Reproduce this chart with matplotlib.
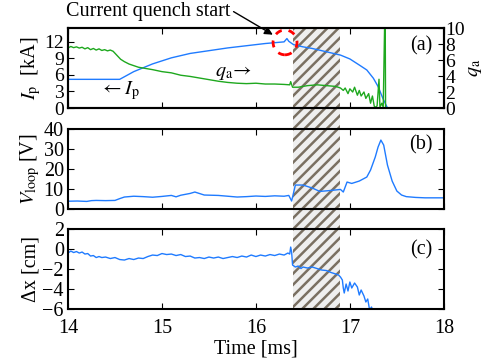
import numpy as np
import matplotlib
matplotlib.use("Agg")
import matplotlib.pyplot as plt
from matplotlib.patches import Rectangle, Ellipse
from matplotlib.transforms import blended_transform_factory

plt.rcParams['font.family'] = ['Liberation Serif', 'DejaVu Serif']
plt.rcParams['mathtext.fontset'] = 'stix'
plt.rcParams['font.size'] = 14.5
plt.rcParams['hatch.linewidth'] = 1.8

# ---- data -----------------------------------------------------------------
ip_t = [14.0, 14.55, 14.7, 14.9, 15.1, 15.3, 15.5, 15.7, 15.9, 16.1, 16.3, 16.33, 16.35,
        16.4, 16.5, 16.6, 16.7, 16.8, 16.9, 17.0, 17.1, 17.18, 17.25, 17.3, 17.35, 17.4]
ip_val = [5.2, 5.2, 6.6, 8.0, 9.1, 9.9, 10.4, 10.9, 11.3, 11.7, 12.0, 12.6, 12.1,
          11.5, 11.1, 10.8, 10.4, 10.0, 9.6, 8.9, 7.8, 6.9, 5.4, 3.9, 1.8, 0.0]

qa_t = [14.0, 14.03, 14.06, 14.09, 14.12, 14.15, 14.18, 14.21, 14.24, 14.27, 14.3, 14.33,
        14.36, 14.39, 14.42, 14.45, 14.48, 14.52, 14.56, 14.6, 14.65, 14.7, 14.75, 14.8,
        14.9, 15.0, 15.1, 15.2, 15.3, 15.4, 15.5, 15.6, 15.7, 15.8, 15.9, 16.0, 16.1, 16.2,
        16.3, 16.36, 16.37, 16.39, 16.45, 16.55, 16.65, 16.75, 16.85, 16.9, 16.93, 16.95,
        16.98, 17.0, 17.03, 17.05, 17.08, 17.1, 17.12, 17.15, 17.17, 17.2, 17.22, 17.24,
        17.26, 17.28, 17.29, 17.31, 17.32, 17.34, 17.355, 17.37, 17.375, 17.38]
qa_val = [7.5, 7.7, 7.55, 7.65, 7.5, 7.6, 7.4, 7.55, 7.3, 7.45, 7.25, 7.4,
          7.2, 7.3, 7.15, 7.25, 7.1, 6.6, 6.1, 5.8, 5.5, 5.3, 5.1, 5.0,
          4.8, 4.55, 4.4, 4.1, 3.95, 3.75, 3.55, 3.35, 3.2, 3.1, 3.05, 3.1, 3.0, 3.0,
          2.95, 2.9, 3.3, 2.6, 2.6, 2.8, 2.9, 2.8, 2.7, 2.5, 2.2, 2.5,
          1.8, 2.4, 2.0, 2.6, 1.6, 2.2, 1.5, 2.0, 1.2, 1.8, 0.6, 1.5,
          0.2, 0.1, 0.3, 3.6, 0.1, 0.6, 0.1, 10.5, 14.0, 0.0]

vl_t = [14.0, 14.1, 14.2, 14.25, 14.3, 14.4, 14.5, 14.55, 14.6, 14.7, 14.8, 14.9, 15.0,
        15.1, 15.15, 15.2, 15.3, 15.35, 15.45, 15.6, 15.7, 15.8, 15.9, 16.0, 16.1, 16.2,
        16.3, 16.35, 16.38, 16.4, 16.42, 16.5, 16.6, 16.68, 16.8, 16.9, 16.93, 16.97,
        17.02, 17.1, 17.18, 17.22, 17.27, 17.3, 17.33, 17.36, 17.4, 17.45, 17.5, 17.55,
        17.6, 17.7, 17.8, 18.0]
vl_val = [3.9, 4.0, 3.8, 4.2, 4.3, 4.2, 4.3, 5.2, 6.0, 6.4, 6.2, 5.9, 6.3,
          6.8, 6.1, 6.9, 7.8, 8.5, 7.0, 6.8, 6.4, 6.0, 6.2, 6.5, 6.3, 6.6,
          6.4, 6.8, 4.0, 8.0, 12.0, 12.0, 10.5, 8.8, 9.3, 9.8, 8.5, 13.5,
          12.8, 14.0, 16.0, 19.5, 26.0, 31.0, 34.5, 32.0, 22.0, 14.0, 9.0, 7.0,
          6.2, 5.8, 5.6, 5.6]

dx_t = [14.0, 14.03, 14.06, 14.09, 14.12, 14.15, 14.18, 14.21, 14.24, 14.27, 14.3, 14.33,
        14.36, 14.4, 14.45, 14.5, 14.55, 14.6, 14.65, 14.7, 14.75, 14.8, 14.85, 14.9,
        14.95, 15.0, 15.05, 15.1, 15.15, 15.2, 15.25, 15.3, 15.35, 15.4, 15.45, 15.5,
        15.55, 15.6, 15.65, 15.7, 15.75, 15.8, 15.85, 15.9, 15.95, 16.0, 16.05, 16.1,
        16.15, 16.2, 16.25, 16.3, 16.34, 16.36, 16.37, 16.38, 16.39, 16.42, 16.45, 16.48,
        16.5, 16.55, 16.6, 16.65, 16.7, 16.75, 16.8, 16.85, 16.88, 16.9, 16.92, 16.93,
        16.94, 16.96, 16.98, 17.0, 17.02, 17.05, 17.08, 17.1, 17.12, 17.15, 17.17, 17.19,
        17.21, 17.23, 17.25]
dx_val = [-0.4, -0.2, -0.35, -0.25, -0.4, -0.3, -0.5, -0.45, -0.7, -0.65, -0.85, -0.75,
          -0.85, -0.8, -0.95, -0.85, -1.05, -1.1, -0.95, -1.05, -0.9, -0.95, -0.75, -0.6,
          -0.65, -0.45, -0.55, -0.5, -0.65, -0.55, -0.75, -0.7, -0.9, -0.85, -0.95, -0.8,
          -0.9, -0.8, -0.95, -0.85, -0.75, -0.85, -0.7, -0.8, -0.6, -0.75, -0.6, -0.7,
          -0.55, -0.65, -0.5, -0.6, -0.4, -0.5, 0.2, -0.3, -1.6, -1.8, -1.7, -1.95,
          -1.8, -1.9, -1.8, -1.95, -2.1, -2.15, -2.35, -2.5, -2.6, -2.8, -3.1, -3.9,
          -4.4, -3.5, -4.2, -3.3, -3.9, -3.4, -3.8, -4.6, -4.1, -4.7, -5.3, -5.0,
          -6.1, -5.8, -6.3]

cq_start, cq_end = 16.4, 16.9
blue = '#1f7bff'
green = '#1ea81e'

# ---- figure ------------------------------------------------------------------
fig = plt.figure(figsize=(4.84, 3.6), dpi=100)
L, W = 0.1405, 0.7765
ax1 = fig.add_axes([L, 0.700, W, 0.222])
ax2 = fig.add_axes([L, 0.4194, W, 0.222])
ax3 = fig.add_axes([L, 0.1417, W, 0.222])
ax1r = ax1.twinx()

for ax in (ax1, ax2, ax3):
    ax.set_facecolor('none')
    ax.set_xlim(14, 18)
    ax.set_xticks([14, 15, 16, 17, 18])
    ax.tick_params(direction='in', top=True, right=True, length=4, pad=3)
    for s in ax.spines.values():
        s.set_linewidth(1.5)
for s in ax1r.spines.values():
    s.set_linewidth(1.5)

# Ip and q_a
ax1.plot(ip_t, ip_val, color=blue, lw=1)
ax1.set_ylim(0, 14.5)
ax1.set_yticks([0, 3, 6, 9, 12])
ax1.set_ylabel(r'$I_\mathrm{p}$  [kA]', labelpad=1)
ax1.tick_params(labelbottom=False, right=False, labelsize=14)
ax1r.plot(qa_t, qa_val, color=green, lw=1)
ax1r.set_ylim(0, 10)
ax1r.set_yticks([0, 2, 4, 6, 8, 10])
ax1r.tick_params(direction='in', length=4, pad=1, labelsize=14)
ax1r.set_ylabel(r'$q_\mathrm{a}$', labelpad=0)
ax1.text(0.97, 0.78, '(a)', transform=ax1.transAxes, ha='right', va='center')
ax1.text(0.39, 0.45, r'$q_\mathrm{a}\!\rightarrow$', transform=ax1.transAxes,
         ha='left', va='center')
ax1.text(0.085, 0.22, r'$\leftarrow I_\mathrm{p}$', transform=ax1.transAxes,
         ha='left', va='center')
ax1.add_patch(Ellipse((16.31, 11.9), 0.255, 4.5, fill=False, edgecolor='red',
                      lw=2, ls=(0, (2.5, 2.5)), clip_on=False, zorder=5))
ax1.annotate('Current quench start', xy=(16.18, 13.3), xycoords='data',
             xytext=(0.307, 0.967), textcoords='figure fraction',
             ha='center', va='center', annotation_clip=False,
             arrowprops=dict(arrowstyle='-|>', color='black', lw=1,
                             relpos=(1.0, 0.6), shrinkA=0, shrinkB=0,
                             mutation_scale=12))

# V loop
ax2.plot(vl_t, vl_val, color=blue, lw=1)
ax2.set_ylim(0, 40)
ax2.set_yticks([0, 10, 20, 30, 40])
ax2.set_ylabel(r'$V_\mathrm{loop}$ [V]', labelpad=1)
ax2.tick_params(labelbottom=False)
ax2.text(0.97, 0.8, '(b)', transform=ax2.transAxes, ha='right', va='center')

# delta x
ax3.plot(dx_t, dx_val, color=blue, lw=1)
ax3.set_ylim(-6, 2)
ax3.set_yticks([-6, -4, -2, 0, 2])
ax3.set_yticklabels(['\u22126', '\u22124', '\u22122', '0', '2'])
ax3.tick_params(axis='x', pad=7)
ax3.set_ylabel('\u0394x [cm]', labelpad=1)
ax3.set_xlabel('Time [ms]', labelpad=1)
ax3.text(0.97, 0.74, '(c)', transform=ax3.transAxes, ha='right', va='center')

# current quench shaded band across all panels
tr = blended_transform_factory(ax3.transData, fig.transFigure)
band = Rectangle((cq_start, 0.1417), cq_end - cq_start, 0.922 - 0.1417,
                 transform=tr, facecolor='#efefef', edgecolor='#7a7062',
                 hatch='///', lw=0, zorder=-1)
fig.patches.append(band)

fig.savefig('out.png', dpi=100)
